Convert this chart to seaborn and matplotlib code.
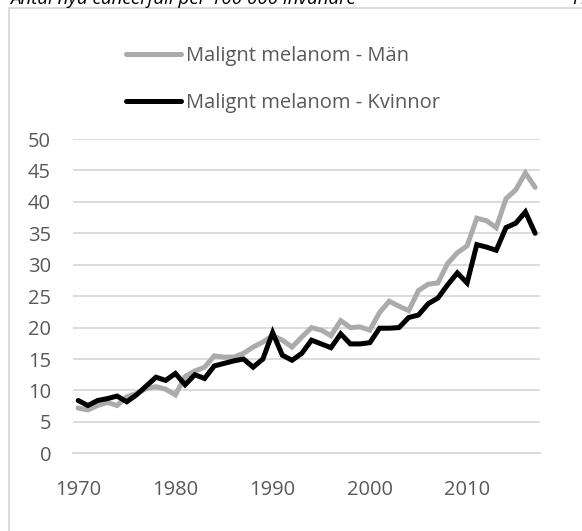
import matplotlib
matplotlib.use("Agg")
import matplotlib.pyplot as plt
import matplotlib.patches as mpatches
import pandas as pd
import seaborn as sns

# Data
years = list(range(1970, 2018))
man = [7.2, 6.9, 7.6, 8.1, 7.6, 9.0, 9.5, 10.3, 10.6, 10.2,
       9.3, 12.2, 13.1, 13.7, 15.5, 15.3, 15.3, 15.9, 16.9, 17.7,
       18.7, 18.0, 16.9, 18.5, 20.0, 19.6, 18.7, 21.1, 20.0, 20.1,
       19.6, 22.4, 24.2, 23.4, 22.7, 25.9, 26.9, 27.1, 30.2, 31.9,
       33.0, 37.4, 37.0, 35.9, 40.5, 41.9, 44.6, 42.3]
kvinnor = [8.4, 7.6, 8.4, 8.7, 9.1, 8.2, 9.3, 10.7, 12.1, 11.6,
           12.7, 10.9, 12.5, 11.9, 13.9, 14.3, 14.7, 15.0, 13.7, 15.0,
           19.2, 15.6, 14.8, 15.9, 18.0, 17.4, 16.8, 19.0, 17.4, 17.4,
           17.6, 19.9, 19.9, 20.0, 21.6, 22.0, 23.8, 24.7, 26.8, 28.7,
           27.1, 33.2, 32.8, 32.3, 35.9, 36.6, 38.4, 35.0]
series_names = ["Malignt melanom - Män", "Malignt melanom - Kvinnor"]
colors = ["#ABABAB", "#000000"]
label_years = [1970, 1980, 1990, 2000, 2010]

df = pd.DataFrame({
    "År": years * 2,
    "Antal": man + kvinnor,
    "Serie": [series_names[0]] * len(years) + [series_names[1]] * len(years),
})

sns.set_style("white")
plt.rcParams["font.family"] = ["Open Sans", "DejaVu Sans"]
txt = "#595959"
grid = "#D9D9D9"
fs = 14.5

fig = plt.figure(figsize=(5.82, 5.31), dpi=100)
ax = fig.add_axes([73.3 / 582, 1 - 453.3 / 531, (540 - 73.3) / 582, (453.3 - 139) / 531])

sns.lineplot(data=df, x="År", y="Antal", hue="Serie", palette=colors,
             linewidth=3.6, ax=ax, legend=True)
for ln in ax.lines:
    ln.set_solid_joinstyle("miter")

# Axes styling
ax.set_xlim(years[0] - 0.5, years[-1] + 0.5)
ax.set_ylim(0, 50)
ax.set_yticks(range(0, 51, 5))
ax.yaxis.grid(True, color=grid, linewidth=1.3)
ax.set_axisbelow(True)
for s in ["top", "right", "left"]:
    ax.spines[s].set_visible(False)
ax.spines["bottom"].set_color(grid)
ax.spines["bottom"].set_linewidth(1.3)
ax.tick_params(axis="y", length=0, labelsize=fs, labelcolor=txt, pad=16)
ax.set_xticks(label_years)
ax.set_xticks([y - 0.5 for y in range(years[0], years[-1] + 1, 5)], minor=True)
ax.tick_params(axis="x", which="major", length=0, labelsize=fs, labelcolor=txt, pad=19)
ax.tick_params(axis="x", which="minor", direction="in", length=5, width=1.3, color=grid)
ax.set_xlabel("")
ax.set_ylabel("")

# Legend
handles, labels = ax.get_legend_handles_labels()
for h in handles:
    h.set_linewidth(3.6)
leg = ax.legend(handles, labels, loc="upper left", bbox_to_anchor=(118 / 582, 1 - 38 / 531),
                bbox_transform=fig.transFigure, frameon=False, fontsize=fs,
                handlelength=2.75, handletextpad=0.25, labelspacing=1.35, borderaxespad=0)
for t in leg.get_texts():
    t.set_color(txt)

# Outer chart frame and cropped header text
fig.patches.append(mpatches.Rectangle((9 / 582, -0.1), 1.2, 1 - 8 / 531 + 0.1,
                                      transform=fig.transFigure, fill=False,
                                      edgecolor=grid, linewidth=1.3))
fig.text(10 / 582, 1 - 4.5 / 531, "Antal nya cancerfall per 100 000 invånare",
         style="italic", fontsize=13.5, color="#000000", va="baseline")
fig.text(572 / 582, 1 - 4.5 / 531, "Fi", style="italic", fontsize=13.5,
         color="#000000", va="baseline")

fig.savefig("out.png", dpi=100)
